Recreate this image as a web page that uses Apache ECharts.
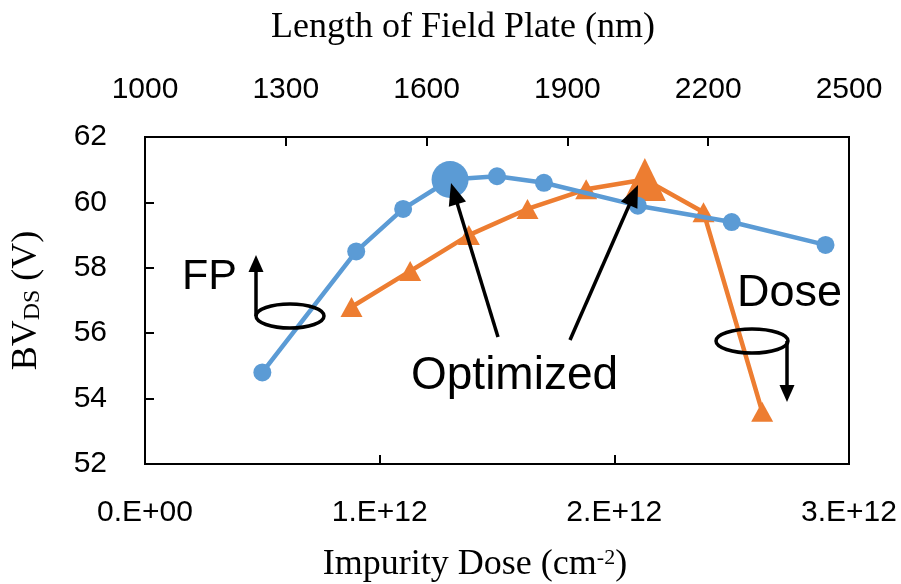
<!DOCTYPE html>
<html><head><meta charset="utf-8">
<script src="https://cdn.jsdelivr.net/npm/echarts@6/dist/echarts.min.js"></script>
<style>html,body{margin:0;padding:0;background:#fff}#c{width:901px;height:584px}</style>
</head><body><div id="c"></div>
<script>
// ---- data ----
const fpLength = [1250, 1450, 1550, 1650, 1750, 1850, 2050, 2250, 2450];
const fpBV = [54.8, 58.5, 59.8, 60.7, 60.8, 60.6, 59.9, 59.4, 58.7];
const fpOptimizedIndex = 3;
const dose = [0.88e12, 1.13e12, 1.38e12, 1.63e12, 1.88e12, 2.13e12, 2.38e12, 2.63e12];
const doseBV = [56.8, 57.9, 59.0, 59.8, 60.4, 60.7, 59.7, 53.6];
const doseOptimizedIndex = 5;
const lengthTicks = [1000, 1300, 1600, 1900, 2200, 2500];
const doseTicks = [0, 1e12, 2e12, 3e12];
const doseTickLabels = ['0.E+00', '1.E+12', '2.E+12', '3.E+12'];
const bvTicks = [52, 54, 56, 58, 60, 62];

const BLUE = '#5B9BD5', ORANGE = '#ED7D31';
const SANS = '"Liberation Sans", Arial, sans-serif';
const SERIF = '"Liberation Serif", "Times New Roman", serif';

const chart = echarts.init(document.getElementById('c'), null, {renderer: 'canvas'});

const axisCommon = {
  axisLine: {show: true, lineStyle: {color: '#000', width: 2}},
  axisTick: {show: true, inside: true, length: 9, lineStyle: {color: '#000', width: 2}},
  splitLine: {show: false},
  axisLabel: {color: '#000', fontFamily: SANS, fontSize: 30}
};

function arrowHead(tipX, tipY, fromX, fromY, len, half) {
  const dx = tipX - fromX, dy = tipY - fromY;
  const d = Math.sqrt(dx * dx + dy * dy);
  const ux = dx / d, uy = dy / d;
  const bx = tipX - ux * len, by = tipY - uy * len;
  return {
    type: 'polygon', z: 100,
    shape: {points: [[tipX, tipY], [bx - uy * half, by + ux * half], [bx + uy * half, by - ux * half]]},
    style: {fill: '#000'}
  };
}
function arrow(x1, y1, x2, y2, len, half) {
  len = len || 18; half = half || 8;
  const dx = x2 - x1, dy = y2 - y1, d = Math.sqrt(dx * dx + dy * dy);
  const ex = x2 - dx / d * (len - 4), ey = y2 - dy / d * (len - 4);
  return [
    {type: 'line', z: 100, shape: {x1: x1, y1: y1, x2: ex, y2: ey}, style: {stroke: '#000', lineWidth: 3.5}},
    arrowHead(x2, y2, x1, y1, len, half)
  ];
}

const graphics = [].concat(
  [{type: 'text', z: 100, style: {text: 'FP', x: 182, y: 277, font: '43px ' + SANS, fill: '#000', textAlign: 'left', textVerticalAlign: 'middle'}}],
  [{type: 'ellipse', z: 100, shape: {cx: 290, cy: 316, rx: 34, ry: 12}, style: {fill: 'none', stroke: '#000', lineWidth: 3.5}}],
  arrow(256, 316, 256, 255, 17, 7.5),
  [{type: 'text', z: 100, style: {text: 'Dose', x: 737, y: 294, font: '45px ' + SANS, fill: '#000', textAlign: 'left', textVerticalAlign: 'middle'}}],
  [{type: 'ellipse', z: 100, shape: {cx: 752, cy: 341, rx: 36, ry: 12}, style: {fill: 'none', stroke: '#000', lineWidth: 3.5}}],
  arrow(787, 341, 787, 402, 17, 7.5),
  [{type: 'text', z: 100, style: {text: 'Optimized', x: 411, y: 376, font: '46px ' + SANS, fill: '#000', textAlign: 'left', textVerticalAlign: 'middle'}}],
  arrow(498, 337, 451, 183, 22, 9),
  arrow(570, 340, 638, 185, 22, 9)
);

chart.setOption({
  animation: false,
  backgroundColor: '#fff',
  grid: {left: 145, right: 52, top: 137, bottom: 120, containLabel: false, outerBoundsMode: 'none',
         show: true, borderColor: '#000', borderWidth: 2, backgroundColor: 'transparent'},
  xAxis: [
    Object.assign({}, axisCommon, {
      type: 'value', position: 'bottom', min: 0, max: 3e12, interval: 1e12,
      axisLabel: Object.assign({}, axisCommon.axisLabel, {
        margin: 34,
        formatter: v => { const i = doseTicks.indexOf(v); return i >= 0 ? doseTickLabels[i] : ''; }
      }),
      name: '{t|Impurity Dose (cm}{sup|-2}{t|)}',
      nameLocation: 'middle', nameGap: 83,
      nameTextStyle: {
        padding: [0, 44, 0, 0],
        rich: {
          t: {fontFamily: SERIF, fontSize: 36, color: '#000'},
          sup: {fontFamily: SERIF, fontSize: 22, color: '#000', verticalAlign: 'top', padding: [0, 0, 14, 0]}
        }
      }
    }),
    Object.assign({}, axisCommon, {
      type: 'value', position: 'top', min: 1000, max: 2500,
      axisTick: Object.assign({}, axisCommon.axisTick, {customValues: lengthTicks}),
      axisLabel: Object.assign({}, axisCommon.axisLabel, {margin: 32, customValues: lengthTicks, formatter: v => String(v)}),
      name: 'Length of Field Plate (nm)',
      nameLocation: 'middle', nameGap: 91,
      nameTextStyle: {fontFamily: SERIF, fontSize: 36, color: '#000', padding: [0, 68, 0, 0]}
    })
  ],
  yAxis: [
    Object.assign({}, axisCommon, {
      type: 'value', min: 52, max: 62, interval: 2,
      axisLabel: Object.assign({}, axisCommon.axisLabel, {margin: 38, customValues: bvTicks}),
      name: '{b|BV}{sub|DS}{b| (V)}',
      nameLocation: 'middle', nameGap: 100,
      nameTextStyle: {
        rich: {
          b: {fontFamily: SERIF, fontSize: 36, color: '#000'},
          sub: {fontFamily: SERIF, fontSize: 24, color: '#000', verticalAlign: 'bottom', padding: [10, 0, 0, 0]}
        }
      }
    })
  ],
  series: [
    {
      name: 'FP', type: 'line', xAxisIndex: 1, yAxisIndex: 0,
      data: fpLength.map((x, i) => [x, fpBV[i]]),
      symbol: 'circle',
      symbolSize: (v, p) => p.dataIndex === fpOptimizedIndex ? 37 : 18,
      itemStyle: {color: BLUE},
      lineStyle: {color: BLUE, width: 4.5},
      z: 3
    },
    {
      name: 'Dose', type: 'line', xAxisIndex: 0, yAxisIndex: 0,
      data: dose.map((x, i) => [x, doseBV[i]]),
      symbol: 'triangle',
      symbolSize: (v, p) => p.dataIndex === doseOptimizedIndex ? [42, 43] : [22, 20],
      itemStyle: {color: ORANGE},
      lineStyle: {color: ORANGE, width: 4.5},
      z: 2
    }
  ],
  graphic: graphics
});
</script>
</body></html>
